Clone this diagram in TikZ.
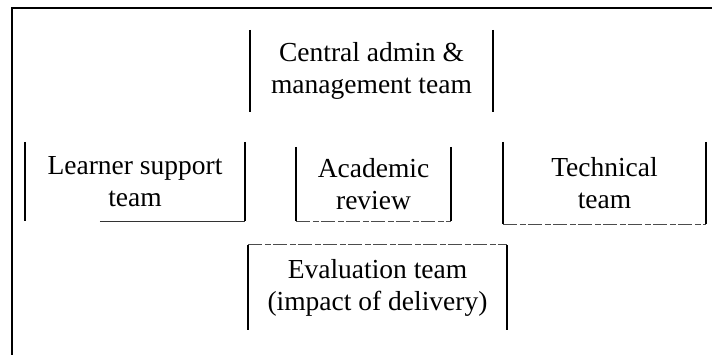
\documentclass[tikz,border=0pt]{standalone}
\usepackage{fontspec}
\setmainfont{Liberation Serif}
\begin{document}
\begin{tikzpicture}[x=1pt,y=-1pt,
  team/.style={inner sep=0pt, align=center, font=\fontsize{27.5}{32}\selectfont},
  side/.style={line width=1.8pt, black},
  edge/.style={line width=1pt, black!80},
  faint/.style={line width=1pt, black!70, dash pattern=on 14pt off 3pt on 6pt off 2pt},
  frame/.style={line width=1.4pt, black}]
\useasboundingbox (0,0) rectangle (712,355);
% outer frame (partly cut off by the page)
\coordinate (fTL) at (12,8);
\coordinate (fTR) at (712,8);
\coordinate (fBL) at (12,355);
\draw[frame] (fBL) -- (fTL) -- (fTR);
% boxes
\node[team, minimum width=243pt, minimum height=82pt] (central) at (371.5,71) {Central admin \&\\management team};
\node[team, minimum width=220pt, minimum height=79pt] (learner) at (135,181.5) {Learner support\\team};
\node[team, minimum width=155pt, minimum height=74pt] (academic) at (373.5,184) {Academic\\review};
\node[team, minimum width=203pt, minimum height=82pt] (technical) at (604.5,183) {Technical\\team};
\node[team, minimum width=259pt, minimum height=85pt] (evaluation) at (377.5,287.5) {Evaluation team\\(impact of delivery)};
% visible sides
\foreach \n in {central,learner,academic,technical,evaluation}{
  \draw[side] (\n.north west) -- (\n.south west);
  \draw[side] (\n.north east) -- (\n.south east);
}
\coordinate (lb) at ([xshift=75pt]learner.south west);
\draw[edge] (lb) -- (learner.south east);
\draw[faint] (academic.south west) -- (academic.south east);
\draw[faint] (technical.south west) -- (technical.south east);
\draw[faint] (evaluation.north west) -- (evaluation.north east);
\end{tikzpicture}
\end{document}
